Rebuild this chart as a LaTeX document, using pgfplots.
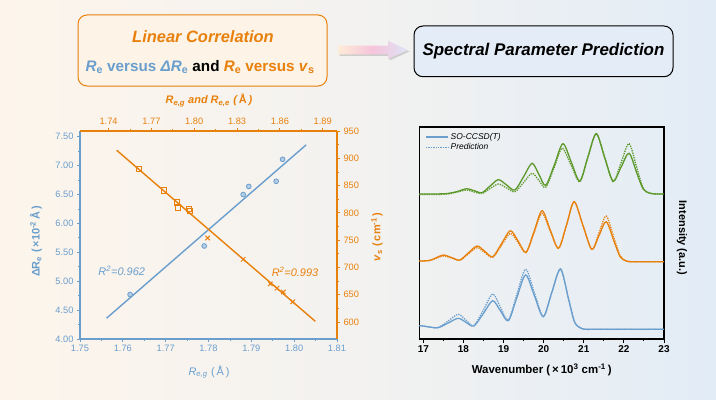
\documentclass[border=0pt]{standalone}
\usepackage{fontspec}
\setmainfont{Liberation Sans}
\usepackage{pgfplots}
\pgfplotsset{compat=1.18}
\usetikzlibrary{shadings}
\definecolor{cblue}{RGB}{106,158,205}
\definecolor{corange}{RGB}{232,128,12}
\definecolor{cgreen}{RGB}{92,152,42}
\definecolor{bgl}{RGB}{253,245,235}
\definecolor{bgm}{RGB}{243,242,240}
\definecolor{bgr}{RGB}{226,236,246}
\definecolor{box1}{RGB}{253,243,230}
\definecolor{box2}{RGB}{228,237,247}
\definecolor{arl}{RGB}{253,236,214}
\definecolor{arm}{RGB}{246,196,220}
\definecolor{arr}{RGB}{222,228,246}
\pgfplotsset{
 lplot/.style={at={(80bp,60bp)},anchor=south west,width=257bp,height=208bp,scale only axis,
  tick align=outside,major tick length=3bp,minor tick length=2bp,
  /pgf/number format/assume math mode=true,
  tick label style={font=\fontsize{9.3}{10}\selectfont},clip=false},
 dotsty/.style={line width=1.3bp,dash pattern=on 1.3bp off 1.1bp},
}
\begin{document}
\begin{tikzpicture}[x=1bp,y=1bp]
\shade[left color=bgl,right color=bgr,middle color=bgm] (0,0) rectangle (716,399);
\useasboundingbox (0,0) rectangle (716,399);
% title box 1
\draw[corange,line width=1bp,rounded corners=9bp,fill=box1] (78,313) rectangle (327,384);
\node[text=corange,font=\fontsize{16.5}{18}\selectfont\bfseries\itshape] at (203,362) {Linear Correlation};
\node[font=\fontsize{15.3}{17}\selectfont\bfseries] at (200,332) {\textcolor{cblue}{\textit{R}\textsubscript{e} versus \textit{ΔR}\textsubscript{e}} and \textcolor{corange}{\textit{R}\textsubscript{e} versus \textit{v}\textsubscript{s}}};
% arrow
\fill[black!40,opacity=0.4] (339.5,343.2) -- (389.5,343.2) -- (389.5,338.5) -- (409.5,347.5) -- (389.5,356.5) -- (389.5,351.8) -- (339.5,351.8) -- cycle;
\shade[left color=arl,right color=arr,middle color=arm] (338,344.7) -- (388,344.7) -- (388,340) -- (408,349) -- (388,358) -- (388,353.3) -- (338,353.3) -- cycle;
% title box 2
\draw[black,line width=1bp,rounded corners=9bp,fill=box2] (414,322.3) rectangle (673,373);
\node[font=\fontsize{17}{19}\selectfont\bfseries\itshape] at (543.5,347.5) {Spectral Parameter Prediction};

% left plot, bottom/left axes
\begin{axis}[lplot,xmin=1.75,xmax=1.81,ymin=4,ymax=7.6,
  axis x line*=bottom,axis y line*=left,
  axis line style={cblue,line width=1.2bp},tick style={cblue,line width=0.8bp},
  xtick={1.75,1.76,1.77,1.78,1.79,1.80,1.81},ytick={4,4.5,5,5.5,6,6.5,7,7.5},
  minor tick num=1,tick label style={text=cblue},
  xticklabel style={/pgf/number format/.cd,fixed,fixed zerofill,precision=2},
  yticklabel style={/pgf/number format/.cd,fixed,fixed zerofill,precision=2}]
\addplot[cblue,line width=1.4bp] coordinates {(1.7562,4.36) (1.8028,7.36)};
\addplot[only marks,mark=*,mark size=2.4,mark options={draw=cblue,fill=cblue!50,line width=0.8bp}] coordinates {
(1.7617,4.77) (1.7790,5.61) (1.7881,6.50) (1.7894,6.64) (1.7958,6.73) (1.7973,7.11)};
\end{axis}

% left plot, top/right axes
\begin{axis}[lplot,xmin=1.72,xmax=1.90,ymin=569,ymax=950,
  axis x line*=top,axis y line*=right,
  axis line style={corange,line width=1.2bp},tick style={corange,line width=0.8bp},
  xtick={1.74,1.77,1.80,1.83,1.86,1.89},ytick={600,650,700,750,800,850,900,950},
  minor tick num=1,tick label style={text=corange},
  xticklabel style={/pgf/number format/.cd,fixed,fixed zerofill,precision=2}]
\addplot[corange,line width=1.4bp] coordinates {(1.7457,914.7) (1.8848,601.4)};
\addplot[only marks,mark=square,mark size=2.6,mark options={draw=corange,fill=box1,line width=1bp}] coordinates {
(1.7614,880) (1.7788,841) (1.7879,819) (1.7888,810) (1.7961,807) (1.7970,804)};
\addplot[only marks,mark=x,mark size=3.2,mark options={draw=corange,line width=1bp}] coordinates {
(1.8094,754) (1.8343,715) (1.8533,670) (1.8580,662) (1.8624,655) (1.8690,637)};
\end{axis}

\node[text=cblue,font=\fontsize{11}{12}\selectfont] at (209,27) {\textit{R}\textsubscript{\textit{e,g}}\,\,(\,Å\,)};
\node[rotate=90,text=cblue,font=\fontsize{11}{12}\selectfont\bfseries] at (36,157.5) {ΔR\textsubscript{e}\,\,(\,×10\textsuperscript{-2}\,Å\,)};
\node[text=corange,font=\fontsize{11}{12}\selectfont\bfseries\itshape] at (209,298.3) {R\textsubscript{e,g} and R\textsubscript{e,e}\,\,(\,{\upshape Å}\,)};
\node[rotate=90,text=corange,font=\fontsize{11}{12}\selectfont\bfseries] at (377,162) {\textit{v}\textsubscript{s}\,\,(\,cm\textsuperscript{-1}\,)};
\node[text=cblue,font=\fontsize{11}{12}\selectfont\itshape] at (121.7,128) {R\textsuperscript{2}=0.962};
\node[text=corange,font=\fontsize{11}{12}\selectfont\itshape] at (295,127.3) {R\textsuperscript{2}=0.993};

% spectrum
\begin{axis}[at={(419.3bp,60bp)},anchor=south west,width=244.7bp,height=212bp,scale only axis,
  xmin=16.9,xmax=23,ymin=0,ymax=212,ytick=\empty,
  xtick={17,18,19,20,21,22,23},minor x tick num=1,xtick pos=left,
  tick align=outside,major tick length=3.5bp,minor tick length=2bp,
  axis line style={black,line width=1.5bp},tick style={black,line width=1bp},
  /pgf/number format/assume math mode=true,
  tick label style={font=\fontsize{10}{11}\selectfont\bfseries},
  legend style={at={(0.012,0.99)},anchor=north west,draw=none,fill=none,
    font=\fontsize{8.5}{10}\selectfont\itshape,row sep=-1.5bp},
  legend cell align=left,
  legend image code/.code={\draw[#1] (0bp,0bp) -- (22bp,0bp);}]
\addlegendimage{draw=cblue,line width=1.3bp}
\addlegendentry{SO-CCSD(T)}
\addlegendimage{draw=cblue,dotsty}
\addlegendentry{Prediction}
% green
\addplot[cgreen,line width=1.3bp,smooth,forget plot] coordinates {
(16.9,145) (17.3,145) (17.6,145.5) (17.85,147.5) (18.08,150.3) (18.27,148.3) (18.46,146.3) (18.66,152.8) (18.87,159.3) (19.07,154.2) (19.28,149) (19.5,162.3) (19.71,175.7) (19.88,164.7) (20.05,153.7) (20.27,174.5) (20.48,195.3) (20.69,176.7) (20.9,158) (21.1,181.7) (21.31,205.3) (21.52,181.7) (21.73,158) (21.93,171.9) (22.13,185.7) (22.33,165) (22.48,150) (22.63,146) (22.8,145) (22.95,145) (23,145)};
\addplot[cgreen,dotsty,smooth,forget plot] coordinates {
(16.9,144.5) (17.3,144.5) (17.6,145) (17.85,147) (18.08,149) (18.27,147) (18.46,145.5) (18.66,150.3) (18.87,155) (19.07,151.2) (19.28,147.3) (19.5,156.5) (19.71,165.7) (19.88,158.7) (20.05,151.7) (20.26,171.2) (20.46,190.7) (20.68,174) (20.9,157.3) (21.1,181.3) (21.31,205.3) (21.52,181.3) (21.73,157.3) (21.93,176.3) (22.13,195.3) (22.33,170) (22.48,151) (22.63,146) (22.8,145) (22.95,145) (23,145)};
% orange
\addplot[corange,line width=1.3bp,smooth,forget plot] coordinates {
(16.9,78) (17.15,78.5) (17.32,81.2) (17.5,84) (17.7,81.5) (17.91,79) (18.12,86) (18.34,93) (18.53,87.7) (18.73,82.3) (18.95,95.3) (19.17,108.3) (19.37,97.5) (19.56,86.7) (19.76,107.5) (19.96,128.3) (20.16,109.5) (20.37,90.7) (20.57,114) (20.76,137.3) (20.98,113.5) (21.2,89.7) (21.38,103.5) (21.56,117.3) (21.76,97) (21.91,82) (22.06,78) (22.2,77.3) (22.5,77.3) (23,77.3)};
\addplot[corange,dotsty,smooth,forget plot] coordinates {
(16.9,78) (17.15,78.5) (17.32,80.7) (17.5,83) (17.7,81) (17.91,78.7) (18.12,85) (18.34,91.3) (18.53,86.5) (18.73,81.7) (18.95,93.7) (19.17,105.7) (19.37,96) (19.56,86.3) (19.76,106) (19.96,125.7) (20.16,108.2) (20.37,90.7) (20.57,114) (20.76,137.3) (20.98,113.5) (21.2,89.5) (21.38,106.3) (21.56,123) (21.76,100) (21.91,83) (22.06,78) (22.2,77.3) (22.5,77.3) (23,77.3)};
% blue
\addplot[cblue,line width=1.3bp,smooth,forget plot] coordinates {
(16.9,13.3) (17.0,13) (17.15,12) (17.37,11.3) (17.62,16) (17.87,20.7) (18.06,16.8) (18.26,13) (18.5,25.7) (18.73,38.3) (18.92,28.3) (19.12,18.3) (19.33,41.2) (19.55,64) (19.77,43.2) (19.99,22.3) (20.2,46.2) (20.42,70) (20.62,40) (20.77,17) (20.92,11) (21.05,9.7) (21.3,9.7) (23,9.7)};
\addplot[cblue,dotsty,smooth,forget plot] coordinates {
(16.9,13.3) (17.0,13) (17.15,12) (17.37,11.5) (17.62,18) (17.87,24.7) (18.06,19) (18.26,13.5) (18.5,29.2) (18.73,45) (18.92,32) (19.12,19) (19.33,44.3) (19.55,69.7) (19.77,46.1) (19.99,22.5) (20.2,46.2) (20.42,70) (20.62,40) (20.77,17) (20.92,11) (21.05,9.7) (21.3,9.7) (23,9.7)};
\end{axis}
\node[font=\fontsize{11.5}{13}\selectfont\bfseries] at (541.7,29) {Wavenumber (\,×\,10\textsuperscript{3} cm\textsuperscript{-1}\,)};
\node[rotate=-90,font=\fontsize{11}{12}\selectfont\bfseries] at (682,161) {Intensity (a.u.)};
\end{tikzpicture}
\end{document}
